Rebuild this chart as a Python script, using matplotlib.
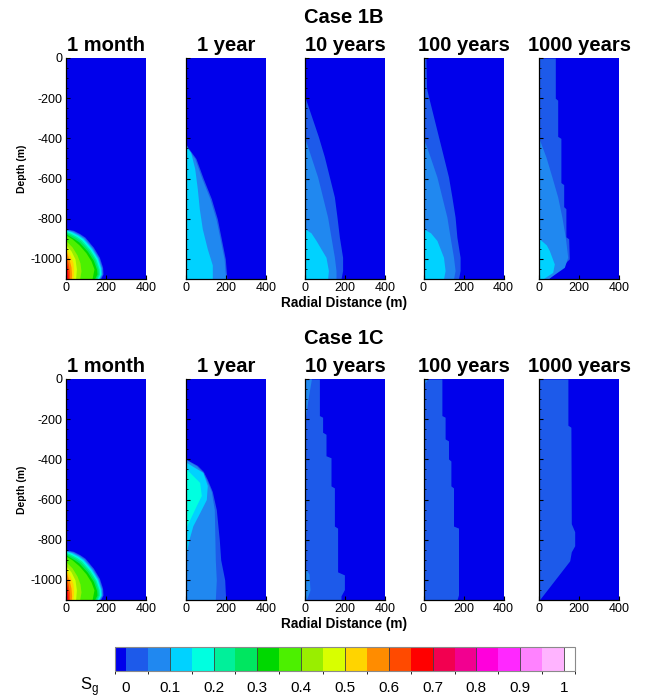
import numpy as np
import matplotlib
matplotlib.use("Agg")
import matplotlib.pyplot as plt
from matplotlib.colors import ListedColormap, BoundaryNorm
from matplotlib.cm import ScalarMappable
from matplotlib.ticker import MultipleLocator

plt.rcParams["font.family"] = ["Liberation Sans", "DejaVu Sans"]
plt.rcParams["axes.unicode_minus"] = False

# ── Data ──────────────────────────────────────────────────────────────────────

CASES = ["Case 1B", "Case 1C"]
TIMES = ["1 month", "1 year", "10 years", "100 years", "1000 years"]

# Sg contour levels (Tecplot legend: 0 .. 1 by 0.05)
SG_LEVELS = np.linspace(0.0, 1.0, 21)
CBAR_TICKS = [0, 0.1, 0.2, 0.3, 0.4, 0.5, 0.6, 0.7, 0.8, 0.9, 1.0]
CBAR_LABELS = ["0", "0.1", "0.2", "0.3", "0.4", "0.5", "0.6", "0.7", "0.8", "0.9", "1"]

COLORS = [
    "#0000EB", "#1D5AEA", "#2088F0", "#00D2FF", "#00FFE0", "#00F09A",
    "#00E660", "#00D800", "#4CF000", "#99EE00", "#D8FF00", "#FFD400",
    "#FF8C00", "#FF4A00", "#FF0000", "#F20050", "#F20090", "#FF00DC",
    "#FF28FF", "#FF82FF", "#FFB4FF", "#FFFFFF",
]

# Plume band outlines: (Sg level, depths [m], radius [m])
# A band covers r = 0 .. radius where Sg >= level.
MONTH_BANDS = [
    (0.00, [-850, -858, -875, -892, -942, -992, -1042, -1075, -1100], [0, 37, 70, 95, 137, 167, 183, 185, 172]),
    (0.05, [-853, -861, -878, -895, -945, -994, -1044, -1075, -1100], [0, 33, 66, 91, 133, 163, 179, 181, 168]),
    (0.10, [-856, -864, -881, -898, -947, -996, -1045, -1075, -1100], [0, 29, 62, 87, 129, 159, 175, 177, 164]),
    (0.15, [-859, -867, -884, -901, -950, -998, -1047, -1075, -1100], [0, 25, 58, 83, 125, 155, 171, 173, 160]),
    (0.20, [-863, -871, -888, -905, -953, -1001, -1049, -1075, -1100], [0, 21, 53, 78, 120, 150, 166, 168, 155]),
    (0.25, [-868, -876, -893, -910, -957, -1004, -1051, -1075, -1100], [0, 16, 47, 72, 114, 144, 160, 162, 149]),
    (0.30, [-874, -882, -899, -916, -962, -1008, -1053, -1075, -1100], [0, 11, 40, 65, 107, 137, 153, 155, 142]),
    (0.35, [-882, -900, -930, -970, -1010, -1050, -1100], [0, 30, 65, 100, 125, 140, 130]),
    (0.40, [-910, -940, -980, -1020, -1060, -1100], [0, 30, 55, 70, 75, 68]),
    (0.45, [-930, -960, -1000, -1050, -1100], [0, 25, 45, 52, 48]),
    (0.50, [-945, -980, -1020, -1060, -1100], [0, 20, 35, 38, 35]),
    (0.55, [-960, -1000, -1040, -1080, -1100], [0, 15, 25, 28, 26]),
    (0.60, [-985, -1020, -1060, -1100], [0, 10, 17, 17]),
    (0.65, [-1010, -1040, -1080, -1100], [0, 6, 10, 10]),
    (0.70, [-1035, -1060, -1100], [0, 4, 5]),
]

B_YEAR_BANDS = [
    (0.00, [-430, -445, -500, -600, -700, -800, -900, -1000, -1100], [0, 8, 48, 85, 125, 155, 175, 195, 203]),
    (0.05, [-432, -447, -500, -600, -700, -800, -900, -1000, -1100], [0, 4, 42, 78, 118, 148, 169, 189, 197]),
    (0.10, [-440, -470, -550, -650, -750, -850, -950, -1030, -1100], [0, 22, 42, 55, 65, 80, 105, 130, 130]),
]

B_10Y_BANDS = [
    (0.00, [-195, -292, -392, -492, -592, -692, -792, -892, -992, -1058, -1100], [0, 33, 67, 97, 122, 147, 160, 172, 188, 188, 180]),
    (0.05, [-400, -492, -592, -692, -792, -892, -992, -1058, -1100], [0, 30, 63, 88, 113, 130, 147, 155, 155]),
    (0.10, [-850, -870, -908, -992, -1058, -1100], [0, 30, 55, 105, 117, 113]),
]

B_100Y_BANDS = [
    (0.00, [0, -150, -192, -292, -392, -492, -592, -692, -792, -892, -992, -1058, -1100], [12, 15, 25, 50, 75, 100, 125, 142, 158, 167, 183, 183, 175]),
    (0.05, [-400, -492, -592, -692, -792, -892, -992, -1058, -1100], [0, 33, 67, 92, 117, 133, 150, 158, 150]),
    (0.10, [-850, -870, -908, -992, -1058, -1100], [0, 35, 67, 100, 108, 100]),
]

B_1000Y_BANDS = [
    (0.00, [0, -200, -210, -390, -400, -620, -630, -740, -750, -890, -900, -1000, -1100], [80, 80, 92, 92, 108, 108, 122, 122, 133, 133, 147, 150, 45]),
    (0.05, [-405, -492, -592, -692, -792, -892, -992, -1042, -1100], [0, 33, 63, 92, 113, 130, 142, 125, 42]),
    (0.10, [-900, -930, -958, -1025, -1067, -1100], [0, 35, 50, 75, 67, 17]),
]

C_YEAR_BANDS = [
    (0.00, [-400, -430, -460, -500, -560, -650, -800, -900, -1000, -1100], [0, 55, 85, 105, 130, 150, 165, 172, 192, 197]),
    (0.05, [-402, -432, -462, -500, -560, -650, -800, -900, -1000, -1100], [0, 50, 80, 100, 125, 140, 143, 145, 150, 145]),
    (0.10, [-415, -465, -530, -600, -665, -730, -800, -870], [0, 83, 105, 100, 67, 33, 13, 0]),
    (0.15, [-448, -515, -580, -630, -700, -735], [0, 67, 75, 50, 17, 0]),
]

C_10Y_BANDS = [
    (0.00, [0, -182, -190, -265, -275, -382, -392, -532, -542, -732, -742, -960, -975, -1048, -1080, -1100],
           [72, 72, 88, 88, 105, 105, 130, 130, 147, 147, 163, 163, 197, 197, 180, 180]),
    (0.05, [0, -100, -205], [32, 15, 0]),
    (0.05, [-940, -970, -1050, -1090, -1100], [0, 20, 25, 10, 0]),
]

C_100Y_BANDS = [
    (0.00, [0, -182, -190, -298, -308, -398, -408, -532, -542, -732, -742, -1075, -1100],
           [92, 92, 108, 108, 125, 125, 137, 137, 150, 150, 175, 175, 167]),
    (0.05, [0, -10, -25], [20, 15, 0]),
]

C_1000Y_BANDS = [
    (0.00, [0, -230, -240, -720, -760, -830, -860, -905, -1100], [143, 143, 158, 160, 177, 177, 160, 152, 0]),
]

ROWS = [
    [MONTH_BANDS, B_YEAR_BANDS, B_10Y_BANDS, B_100Y_BANDS, B_1000Y_BANDS],
    [MONTH_BANDS, C_YEAR_BANDS, C_10Y_BANDS, C_100Y_BANDS, C_1000Y_BANDS],
]

# ── Layout (pixels of a 645x700 canvas) ───────────────────────────────────────

W, H = 645, 700
PANEL_LEFT = [66, 186.3, 305, 423.5, 539.3]
PANEL_W = 80
ROW_TOP = [58, 379]
PANEL_H = 221

cmap = ListedColormap(COLORS)
bounds = [-0.025] + list(SG_LEVELS) + [1.025]
norm = BoundaryNorm(bounds, cmap.N)


def band_color(level):
    return cmap(norm(level + 0.01))


fig = plt.figure(figsize=(W / 100, H / 100), dpi=100)

for row, (case, panels) in enumerate(zip(CASES, ROWS)):
    top = ROW_TOP[row]
    fig.text(344 / W, 1 - (top - 35) / H, case, ha="center", va="baseline",
             fontsize=14.5, fontweight="bold")
    for col, (title, bands) in enumerate(zip(TIMES, panels)):
        ax = fig.add_axes([PANEL_LEFT[col] / W, 1 - (top + PANEL_H) / H,
                           PANEL_W / W, PANEL_H / H])
        ax.set_facecolor(band_color(-0.02))
        for level, z, r in bands:
            ax.fill_betweenx(z, 0, r, color=band_color(level), lw=0, zorder=1)
        ax.set_xlim(0, 400)
        ax.set_ylim(-1100, 0)
        ax.set_xticks([0, 200, 400])
        ax.set_yticks([0, -200, -400, -600, -800, -1000])
        ax.yaxis.set_minor_locator(MultipleLocator(50))
        ax.tick_params(direction="in", length=3, width=0.8, top=False, right=False,
                       labelsize=9, pad=2.5, zorder=5)
        ax.tick_params(which="minor", direction="in", length=1.5, width=0.6,
                       top=False, right=False, bottom=False)
        if col > 0:
            ax.tick_params(labelleft=False)
        for side in ("top", "right"):
            ax.spines[side].set_visible(False)
        for side in ("left", "bottom"):
            ax.spines[side].set_linewidth(0.9)
            ax.spines[side].set_zorder(6)
        ax.set_title(title, pad=5, fontsize=14.5, fontweight="bold")

    fig.text(21.7 / W, 1 - (top + PANEL_H / 2) / H, "Depth (m)", rotation=90,
             ha="center", va="center", fontsize=7.5, fontweight="bold")
    fig.text(344 / W, 1 - (top + PANEL_H + 24) / H, "Radial Distance (m)",
             ha="center", va="center", fontsize=9.8, fontweight="bold")

# ── Legend bar ────────────────────────────────────────────────────────────────

cax = fig.add_axes([115 / W, 1 - 671 / H, 460 / W, 24 / H])
cb = fig.colorbar(ScalarMappable(norm=norm, cmap=cmap), cax=cax,
                  orientation="horizontal", spacing="proportional",
                  ticks=CBAR_TICKS)
cb.set_ticklabels(CBAR_LABELS)
cb.ax.tick_params(length=0, pad=7, labelsize=11)
cb.outline.set_edgecolor("#8a8a8a")
cb.outline.set_linewidth(0.8)
for v in CBAR_TICKS[1:]:
    cb.ax.axvline(v, color="#404040", lw=0.6)

fig.text(89 / W, 1 - 687 / H, r"S$_\mathregular{g}$", ha="center", va="center",
         fontsize=12)

fig.savefig("out.png", dpi=100)
